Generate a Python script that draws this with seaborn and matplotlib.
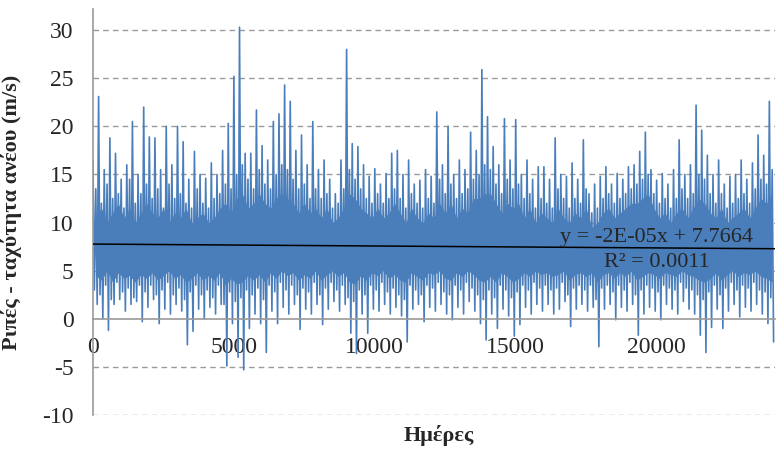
import numpy as np
import matplotlib
matplotlib.use("Agg")
import matplotlib.pyplot as plt
import seaborn as sns

sns.set_theme(style="white")
plt.rcParams["font.family"] = ["Liberation Serif", "DejaVu Serif"]
plt.rcParams["axes.unicode_minus"] = False

BLUE = "#4a7ebb"
GRID = "#9a9a9a"

# ---------------------------------------------------------
# Data (200-day bins)
#   bin_high / bin_low   : tallest spike and deepest dip in the bin
#   sub_high / sub_low   : the next strongest swing in the same bin
#   core_high / core_low : edges of the solid blue band
# ---------------------------------------------------------
bin_start = list(range(0, 24001, 200))

bin_high = [
    16.5, 23.1, 15.5, 18.8, 17.2, 14.5, 16.0, 20.5, 15.0, 22.0,
    18.9, 18.8, 15.5, 20.0, 16.0, 20.0, 18.4, 14.5, 17.4, 15.0,
    14.6, 16.2, 15.0, 17.5, 20.3, 25.2, 30.3, 17.2, 17.2, 21.7,
    18.0, 16.5, 20.5, 21.3, 24.3, 22.6, 17.5, 19.1, 16.0, 20.5,
    15.5, 16.5, 14.5, 13.0, 16.5, 28.0, 18.2, 17.9, 16.0, 14.8,
    15.6, 14.0, 15.1, 17.2, 17.5, 15.0, 16.5, 14.0, 14.4, 15.5,
    14.8, 21.5, 16.0, 20.0, 15.0, 16.5, 15.5, 19.4, 17.5, 25.9,
    21.0, 17.9, 16.0, 20.8, 16.5, 20.7, 15.0, 16.5, 14.5, 15.8,
    15.8, 14.5, 18.8, 15.0, 14.8, 16.2, 14.5, 18.6, 13.0, 14.0,
    14.8, 15.8, 14.0, 15.1, 14.5, 15.8, 16.0, 17.4, 19.4, 15.5,
    14.4, 15.1, 14.0, 15.5, 18.6, 15.0, 16.0, 22.2, 19.6, 17.0,
    15.0, 16.5, 14.0, 14.8, 15.0, 16.5, 14.5, 16.2, 19.1, 17.0,
    22.6,
]

bin_low = [
    1.5, 0.0, -1.2, 1.5, 2.0, 0.8, 1.5, 1.8, -0.3, 1.2,
    2.0, -0.5, 1.0, 0.5, 1.5, 0.8, -2.7, -1.3, 1.0, 0.0,
    1.2, 0.5, 1.5, -4.9, -0.5, -4.0, -5.3, -1.0, 0.5, -0.5,
    -3.5, 0.8, -0.5, 1.2, 0.5, 1.5, -1.1, 1.0, 0.5, 1.5,
    -0.6, 1.0, 1.8, 0.8, 1.5, -1.5, -3.6, 0.5, -1.5, 1.0,
    0.8, 1.5, 0.5, 1.2, 0.3, -2.4, 1.0, 1.5, -0.3, 1.2,
    0.8, 1.5, 0.5, -0.1, 1.2, 0.5, 1.8, 0.8, -0.5, -2.2,
    0.5, -1.0, 1.0, 0.3, -1.8, -0.6, 1.2, 0.5, 1.5, 0.8,
    1.5, 0.5, 1.0, 1.8, -0.8, 1.0, 1.5, 0.8, 1.2, -2.9,
    1.0, 1.5, -0.1, 1.2, 0.8, 1.5, -1.7, 0.5, 1.2, 0.8,
    -0.1, 1.5, 1.0, 0.5, 1.8, 1.0, 0.5, -1.7, -3.5, -0.9,
    1.0, -1.0, 0.8, 1.5, 0.2, 1.2, 0.8, 1.5, 0.5, -0.5,
    -2.4,
]

sub_high = [
    13.5, 12.0, 14.0, 12.5, 13.0, 11.5, 14.5, 12.0, 13.0, 14.0,
    12.5, 13.5, 11.5, 14.0, 12.5, 13.0, 12.0, 11.5, 13.5, 12.0,
    11.5, 12.5, 13.0, 14.0, 13.5, 15.0, 16.0, 14.5, 13.5, 15.5,
    14.0, 13.5, 15.0, 16.0, 15.5, 14.5, 13.5, 14.0, 12.5, 13.5,
    12.5, 13.0, 11.5, 12.0, 13.5, 15.5, 14.5, 13.5, 12.5, 12.0,
    13.0, 12.0, 12.5, 13.5, 12.5, 11.5, 13.0, 12.0, 11.5, 12.5,
    12.0, 14.5, 13.0, 14.0, 12.5, 13.0, 13.5, 14.5, 15.0, 16.0,
    15.5, 14.0, 13.0, 14.5, 13.5, 14.0, 12.5, 13.0, 11.5, 12.5,
    12.0, 11.5, 13.5, 12.5, 11.5, 12.5, 12.0, 13.5, 11.0, 11.5,
    12.5, 13.0, 12.0, 12.5, 13.0, 13.5, 14.0, 14.5, 15.0, 13.0,
    12.0, 12.5, 11.5, 12.5, 13.5, 12.5, 13.0, 15.0, 14.5, 13.0,
    12.0, 13.0, 11.5, 12.0, 12.5, 13.0, 12.0, 13.5, 14.5, 14.0,
    15.5,
]

sub_low = [
    3.0, 2.5, 3.5, 2.0, 3.8, 2.8, 3.2, 2.2, 3.5, 2.8,
    3.5, 2.5, 3.0, 3.8, 2.5, 3.2, 2.0, 2.8, 3.5, 2.5,
    3.0, 2.2, 3.5, 1.5, 2.8, 1.8, 2.2, 3.0, 2.5, 3.2,
    2.0, 3.5, 2.8, 3.8, 3.0, 3.5, 2.5, 3.2, 2.8, 3.8,
    2.5, 3.2, 3.8, 3.0, 3.5, 2.2, 1.8, 3.0, 2.5, 3.5,
    3.0, 3.8, 2.8, 3.2, 2.5, 2.0, 3.5, 3.0, 2.5, 3.5,
    3.2, 3.8, 2.8, 2.5, 3.5, 3.0, 3.8, 3.2, 2.5, 2.0,
    3.0, 2.2, 3.5, 3.0, 2.2, 2.8, 3.5, 3.0, 3.8, 3.2,
    3.5, 3.0, 3.2, 3.8, 2.5, 3.2, 3.5, 3.0, 3.5, 2.0,
    3.2, 3.5, 2.8, 3.5, 3.0, 3.8, 2.5, 3.0, 3.5, 3.2,
    2.8, 3.5, 3.2, 3.0, 3.8, 3.2, 3.0, 2.5, 2.0, 2.8,
    3.5, 2.5, 3.2, 3.8, 3.0, 3.5, 3.2, 3.8, 3.0, 2.8,
    2.2,
]

core_high = [
    10.5, 11.5, 10.0, 11.0, 12.0, 10.5, 11.5, 10.0, 11.0, 12.0,
    11.0, 10.5, 11.5, 10.0, 11.0, 10.5, 11.5, 10.0, 10.5, 11.0,
    10.0, 10.5, 11.5, 12.0, 11.0, 12.5, 13.0, 11.5, 12.0, 13.0,
    12.0, 11.5, 12.5, 13.0, 12.5, 12.0, 11.0, 12.0, 11.0, 11.5,
    10.5, 11.5, 10.0, 10.5, 11.5, 13.0, 12.5, 11.5, 11.0, 10.5,
    11.5, 10.5, 11.0, 12.0, 11.0, 10.0, 11.5, 10.5, 10.0, 11.0,
    10.5, 12.0, 11.0, 12.0, 10.5, 11.5, 11.0, 12.5, 12.5, 13.0,
    13.0, 12.0, 11.0, 12.0, 11.5, 12.0, 10.5, 11.5, 10.0, 11.0,
    10.5, 10.0, 11.5, 10.5, 10.0, 11.0, 10.5, 11.5, 9.5, 10.0,
    11.0, 11.5, 10.5, 11.0, 11.5, 12.0, 12.0, 12.5, 13.0, 11.5,
    10.5, 11.0, 10.0, 11.0, 11.5, 10.5, 11.5, 12.5, 12.0, 11.0,
    10.5, 11.5, 10.0, 10.5, 11.0, 11.5, 10.5, 11.5, 12.5, 12.0,
    13.0,
]

core_low = [
    4.5, 4.0, 5.0, 3.8, 4.8, 4.2, 4.5, 3.8, 4.6, 4.2,
    4.8, 4.0, 4.5, 5.0, 4.2, 4.6, 3.8, 4.2, 4.8, 4.0,
    4.5, 4.0, 4.8, 3.5, 4.2, 3.6, 3.8, 4.5, 4.0, 4.6,
    3.8, 4.8, 4.2, 5.0, 4.5, 4.8, 4.0, 4.6, 4.2, 5.0,
    4.0, 4.6, 5.0, 4.4, 4.8, 3.8, 3.6, 4.5, 4.0, 4.8,
    4.5, 5.0, 4.2, 4.6, 4.0, 3.8, 4.8, 4.4, 4.0, 4.8,
    4.6, 5.0, 4.2, 4.0, 4.8, 4.4, 5.0, 4.6, 4.0, 3.8,
    4.4, 3.8, 4.8, 4.4, 3.8, 4.2, 4.8, 4.4, 5.0, 4.6,
    4.8, 4.4, 4.6, 5.0, 4.0, 4.6, 4.8, 4.4, 4.8, 3.8,
    4.6, 4.8, 4.2, 4.8, 4.4, 5.0, 4.0, 4.4, 4.8, 4.6,
    4.2, 4.8, 4.6, 4.4, 5.0, 4.6, 4.4, 4.0, 3.8, 4.2,
    4.8, 4.0, 4.6, 5.0, 4.4, 4.8, 4.6, 5.0, 4.4, 4.2,
    3.8,
]

# Excel linear trendline as printed on the chart
slope, intercept, r2 = -2e-05, 7.7664, 0.0011

y_ticks = [-10, -5, 0, 5, 10, 15, 20, 25, 30]
x_ticks = [0, 5000, 10000, 15000, 20000]
x_max = 24200

# ---------------------------------------------------------
# Plot
# ---------------------------------------------------------
fig = plt.figure(figsize=(7.76, 4.5), dpi=100)
ax = fig.add_axes([0.1198, 0.0778, 0.8789, 0.9022])

for yv in y_ticks:
    if yv != 0:
        ax.axhline(yv, color=GRID, lw=1.0, ls=(0, (4, 3)), zorder=0)

start = np.array(bin_start)
ax.fill_between(start + 100, core_low, core_high, color=BLUE, lw=0, zorder=1)

# each bin: big spike, small dip, small spike, big dip
zig_x = np.column_stack([start, start + 50, start + 100, start + 150]).ravel()
zig_y = np.column_stack([bin_high, sub_low, sub_high, bin_low]).ravel()
sns.lineplot(x=zig_x, y=zig_y, ax=ax, color=BLUE, lw=1.2,
             estimator=None, sort=False, zorder=2)

tx = np.array([0, x_max])
ax.plot(tx, slope * tx + intercept, color="black", lw=1.1, zorder=3)

ax.text(20000, 8.5, "y = -2E-05x + 7.7664", ha="center", va="center",
        fontsize=16, zorder=4)
ax.text(20000, 5.9, f"R² = {r2}", ha="center", va="center",
        fontsize=16, zorder=4)

ax.set_xlim(0, x_max)
ax.set_ylim(-10, 32.2)
ax.set_xticks(x_ticks)
ax.set_yticks(y_ticks)
ax.tick_params(axis="both", length=0, labelsize=17)
ax.tick_params(axis="y", pad=14)
ax.tick_params(axis="x", pad=13)

for s in ["top", "right"]:
    ax.spines[s].set_visible(False)
ax.spines["bottom"].set_position(("data", 0))
ax.spines["bottom"].set_color(GRID)
ax.spines["left"].set_color(GRID)
ax.spines["bottom"].set_linewidth(1.2)
ax.spines["left"].set_linewidth(1.2)
ax.grid(False)

ax.set_xlabel("Ημέρες", fontsize=16, fontweight="bold")
ax.xaxis.set_label_coords(0.507, -0.025)
ax.set_ylabel("Ριπές - ταχύτητα ανέου (m/s)", fontsize=16, fontweight="bold")
ax.yaxis.set_label_coords(-0.104, 0.5)

fig.savefig("out.png", dpi=100)
